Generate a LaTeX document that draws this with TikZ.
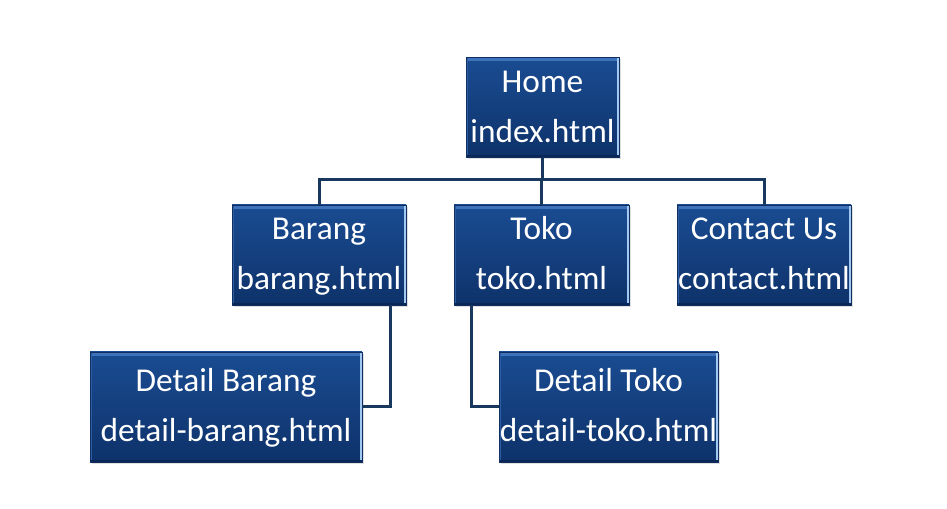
\documentclass[tikz,border=0pt]{standalone}
\usepackage{fontspec}
\setmainfont{Carlito}
\usetikzlibrary{shadows}

\tikzset{every picture/.style={line width=0.75pt}}
\newcommand{\pline}[2]{\strut#1\\\strut#2}

\begin{document}
\begin{tikzpicture}[x=0.75pt,y=0.75pt,yscale=-1,xscale=1,
  pagebox/.style={draw={rgb,255:red,16;green,46;blue,96},line width=0.6pt,
    top color={rgb,255:red,26;green,76;blue,146},bottom color={rgb,255:red,14;green,50;blue,106},
    drop shadow={shadow xshift=1.5pt,shadow yshift=-1.5pt,opacity=0.25},
    path picture={
      \draw[color={rgb,255:red,62;green,114;blue,186},line width=3pt]
        ([yshift=-1.5pt]path picture bounding box.north west) -- ([yshift=-1.5pt]path picture bounding box.north east);
      \draw[color={rgb,255:red,44;green,94;blue,164},line width=1.5pt]
        ([xshift=0.75pt]path picture bounding box.north west) -- ([xshift=0.75pt]path picture bounding box.south west);
      \draw[color={rgb,255:red,160;green,200;blue,240},line width=1.5pt]
        ([xshift=-0.75pt]path picture bounding box.north east) -- ([xshift=-0.75pt]path picture bounding box.south east);
      \draw[color={rgb,255:red,10;green,38;blue,86},line width=1.5pt]
        ([yshift=0.75pt]path picture bounding box.south west) -- ([yshift=0.75pt]path picture bounding box.south east);},
    text=white,align=center,inner sep=0pt,
    font=\fontsize{25}{37.5}\selectfont},
  link/.style={draw={rgb,255:red,25;green,56;blue,96},line width=2.25pt}]
\useasboundingbox (0,0) rectangle (947,509);

%Shape: Home
\node [pagebox,minimum width=114.75pt,minimum height=74.25pt] (home) at (542.5,107.5) {\pline{Home}{index.html}};
%Shape: Barang
\node [pagebox,minimum width=130.5pt,minimum height=75pt] (barang) at (319,255) {\pline{Barang}{barang.html}};
%Shape: Toko
\node [pagebox,minimum width=131.25pt,minimum height=75pt] (toko) at (541.5,255) {\pline{Toko}{toko.html}};
%Shape: Contact Us
\node [pagebox,minimum width=130.5pt,minimum height=75pt] (contact) at (764,255) {\pline{Contact Us}{contact.html}};
%Shape: Detail Barang
\node [pagebox,minimum width=204pt,minimum height=82.5pt] (dbarang) at (226,407) {\pline{Detail Barang}{detail-barang.html}};
%Shape: Detail Toko
\node [pagebox,minimum width=164.25pt,minimum height=82.5pt] (dtoko) at (608.5,407) {\pline{Detail Toko}{detail-toko.html}};

\coordinate (bus) at (542.5,180);

% Connectors
\draw [link] (home.south) -- (bus);
\draw [link] (bus) -| (barang.north);
\draw [link] (bus) -| (toko.north);
\draw [link] (bus) -| (contact.north);
\draw [link] ([xshift=-12pt]barang.south east) |- (dbarang.east);
\draw [link] ([xshift=13.5pt]toko.south west) |- (dtoko.west);

\end{tikzpicture}
\end{document}
